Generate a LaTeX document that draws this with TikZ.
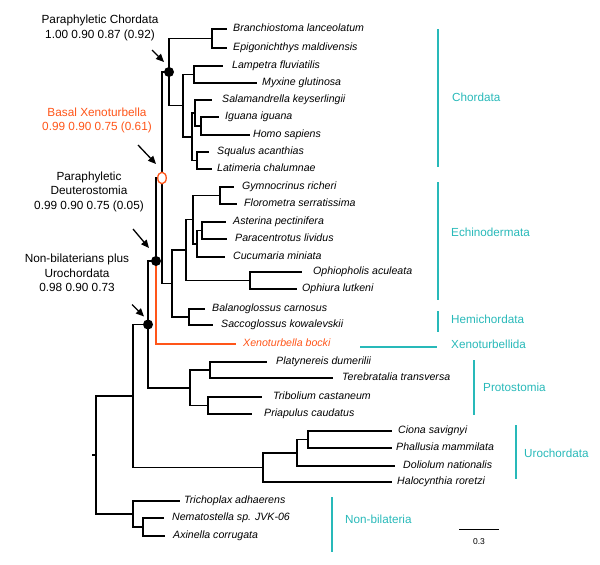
\documentclass[tikz,border=0pt]{standalone}
\usepackage{fontspec}
\setmainfont{Liberation Sans}
\usepackage{xcolor}
\usetikzlibrary{arrows.meta,shapes.geometric}
\definecolor{xeno}{RGB}{255,85,25}
\definecolor{clade}{RGB}{40,185,185}

\begin{document}
\begin{tikzpicture}[x=1pt,y=-1pt,
  branch/.style={line width=1.8pt},
  taxon/.style={anchor=west,inner ysep=0pt,inner xsep=#1,text height=7.6pt,text depth=2.6pt,font=\fontsize{10.6}{12}\selectfont\itshape},
  taxon/.default=6pt,
  cladebar/.style={draw=clade,line width=1.4pt},
  cladename/.style={anchor=west,text=clade,inner sep=0pt,font=\fontsize{11.7}{14}\selectfont},
  note/.style={align=center,inner sep=0pt,font=\fontsize{11.8}{14.5}\selectfont},
  pointer/.style={-{Triangle[length=8pt,width=7pt]},line width=1.3pt},
  hit/.style={circle,fill=black,inner sep=0pt,minimum size=10pt},
  miss/.style={ellipse,draw=xeno,fill=white,line width=1.3pt,inner sep=0pt,minimum width=8.5pt,minimum height=11.5pt}]
\useasboundingbox (0,0) rectangle (600,565);

\foreach \id/\x/\y/\g/\nm in {
  bra/227/29/6/Branchiostoma lanceolatum,
  epi/227/48/6/Epigonichthys maldivensis,
  lam/223/66/9/Lampetra fluviatilis,
  myx/257/83/5/Myxine glutinosa,
  sal/212/100/10/Salamandrella keyserlingii,
  igu/219/117/6/Iguana iguana,
  hom/250/135/3/Homo sapiens,
  squ/209/152/8/Squalus acanthias,
  lat/212/169/5/Latimeria chalumnae,
  gym/234/187/8/Gymnocrinus richeri,
  flo/237/204/7/Florometra serratissima,
  ast/226/222/7/Asterina pectinifera,
  par/227/239/8/Paracentrotus lividus,
  cuc/225/257/8/Cucumaria miniata,
  oph/302/272/11/Ophiopholis aculeata,
  opl/297/289/5/Ophiura lutkeni,
  bal/205/309/7/Balanoglossus carnosus,
  sac/213/325/8/Saccoglossus kowalevskii,
  pla/267/362/9/Platynereis dumerilii,
  ter/333/378/9/Terebratalia transversa,
  trb/262/397/11/Tribolium castaneum,
  pri/252/414/12/Priapulus caudatus,
  cio/392/431/6/Ciona savignyi,
  pha/392/448/4/Phallusia mammilata,
  dol/395/466/8/Doliolum nationalis,
  hal/392/482/5/Halocynthia roretzi,
  tri/180/501/4/Trichoplax adhaerens,
  nem/164/518/8/Nematostella sp. JVK-06,
  axi/165/536/8/Axinella corrugata}
  \node[taxon=\g pt] (\id) at (\x,\y) {\nm};
\node[taxon=7pt,text=xeno] (xen) at (236,344) {Xenoturbella bocki};

\coordinate (stem) at (92,455);
\coordinate (root) at (96,455);
\coordinate (nb) at (133,514);
\coordinate (nemaxi) at (143,527);
\coordinate (bil) at (133,396);
\coordinate (uro) at (263,467.5);
\coordinate (urotwo) at (297,453);
\coordinate (cionphal) at (308,439.5);
\coordinate (n148) at (148,324.5);
\coordinate (proto) at (190,388);
\coordinate (platere) at (210,370);
\coordinate (tripri) at (208,405.5);
\coordinate (n156) at (156,261);
\coordinate (n162) at (162,178);
\coordinate (ambul) at (172,283.5);
\coordinate (hemi) at (189,317);
\coordinate (echino) at (186,250);
\coordinate (ophi) at (250,280.5);
\coordinate (n193) at (193,219.5);
\coordinate (crin) at (220,195.5);
\coordinate (n197) at (197,244);
\coordinate (astpar) at (202,230.5);
\coordinate (chord) at (169,72);
\coordinate (cephal) at (212,38.5);
\coordinate (vert) at (183,105.5);
\coordinate (cyclo) at (194,74.5);
\coordinate (gnath) at (192,137);
\coordinate (tetra) at (195,113);
\coordinate (amnio) at (201,126);
\coordinate (chondr) at (197,160.5);

\draw[branch] (stem) -- (root);
\foreach \a/\b in {root/bil, root/nb, nb/tri.west, nb/nemaxi, nemaxi/nem.west, nemaxi/axi.west,
  bil/n148, bil/uro, uro/urotwo, uro/hal.west, urotwo/cionphal, urotwo/dol.west,
  cionphal/cio.west, cionphal/pha.west, n148/n156, n148/proto, proto/platere, proto/tripri,
  platere/pla.west, platere/ter.west, tripri/trb.west, tripri/pri.west, n156/n162,
  n162/chord, n162/ambul, ambul/echino, ambul/hemi, hemi/bal.west, hemi/sac.west,
  echino/n193, echino/ophi, ophi/oph.west, ophi/opl.west, n193/crin, n193/n197,
  crin/gym.west, crin/flo.west, n197/astpar, n197/cuc.west, astpar/ast.west, astpar/par.west,
  chord/cephal, chord/vert, cephal/bra.west, cephal/epi.west, vert/cyclo, vert/gnath,
  cyclo/lam.west, cyclo/myx.west, gnath/tetra, gnath/chondr, tetra/sal.west, tetra/amnio,
  amnio/igu.west, amnio/hom.west, chondr/squ.west, chondr/lat.west}
  \draw[branch] (\a) |- (\b);
\draw[branch,draw=xeno,line width=1.4pt] (n156) |- (xen.west);

\node[hit] (chorddot) at (chord) {};
\node[miss] (basal) at (n162) {};
\node[hit] (deutdot) at (n156) {};
\node[hit] (urodot) at (n148) {};

\node[note] (parachord) at (100,28) {Paraphyletic Chordata\\1.00 0.90 0.87 (0.92)};
\node[note,text=xeno] (basalxeno) at (97,120.5) {Basal Xenoturbella\\0.99 0.90 0.75 (0.61)};
\node[note] (paradeut) at (89,191.5) {Paraphyletic\\Deuterostomia\\0.99 0.90 0.75 (0.05)};
\node[note] (nonbil) at (77,273) {Non-bilaterians plus\\Urochordata\\0.98 0.90 0.73};
\draw[pointer] ([shift={(-17,-22)}]chorddot.center) -- ([shift={(-5,-10)}]chorddot.center);
\draw[pointer] ([shift={(-24,-33)}]basal.center) -- ([shift={(-6,-14)}]basal.center);
\draw[pointer] ([shift={(-23,-32)}]deutdot.center) -- ([shift={(-7,-13)}]deutdot.center);
\draw[pointer] ([shift={(-16,-20)}]urodot.center) -- ([shift={(-4,-8)}]urodot.center);

\draw[cladebar] (438,29) -- (438,167);
\node[cladename] (chordata) at (452,97) {Chordata};
\draw[cladebar] (438,182) -- (438,300);
\node[cladename] (echinodermata) at (451,232) {Echinodermata};
\draw[cladebar] (438,311) -- (438,332);
\node[cladename] (hemichordata) at (451,319) {Hemichordata};
\draw[cladebar] (360,347) -- (437,347);
\node[cladename] (xenoturbellida) at (451,344) {Xenoturbellida};
\draw[cladebar] (474,360) -- (474,415);
\node[cladename] (protostomia) at (483,387) {Protostomia};
\draw[cladebar] (516,425) -- (516,479);
\node[cladename] (urochordata) at (524,453) {Urochordata};
\draw[cladebar] (332,497) -- (332,552);
\node[cladename] (nonbilateria) at (345,519) {Non-bilateria};

\draw[line width=1pt] (459,529) -- (499,529);
\node[font=\fontsize{8.5}{10}\selectfont] (scale) at (479,542) {0.3};
\end{tikzpicture}
\end{document}
